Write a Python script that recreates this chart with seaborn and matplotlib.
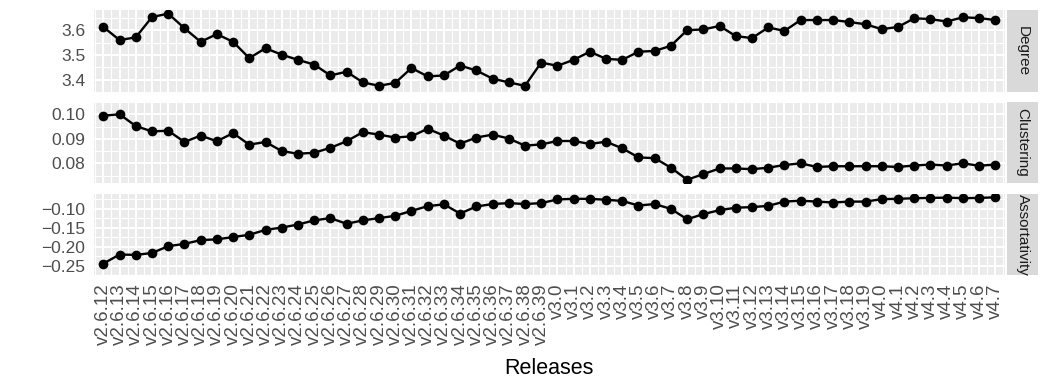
import numpy as np
import pandas as pd
import matplotlib
matplotlib.use("Agg")
import matplotlib.pyplot as plt
from matplotlib.patches import Rectangle
import seaborn as sns

releases = [
    "v2.6.12", "v2.6.13", "v2.6.14", "v2.6.15", "v2.6.16", "v2.6.17", "v2.6.18",
    "v2.6.19", "v2.6.20", "v2.6.21", "v2.6.22", "v2.6.23", "v2.6.24", "v2.6.25",
    "v2.6.26", "v2.6.27", "v2.6.28", "v2.6.29", "v2.6.30", "v2.6.31", "v2.6.32",
    "v2.6.33", "v2.6.34", "v2.6.35", "v2.6.36", "v2.6.37", "v2.6.38", "v2.6.39",
    "v3.0", "v3.1", "v3.2", "v3.3", "v3.4", "v3.5", "v3.6", "v3.7", "v3.8", "v3.9",
    "v3.10", "v3.11", "v3.12", "v3.13", "v3.14", "v3.15", "v3.16", "v3.17", "v3.18",
    "v3.19", "v4.0", "v4.1", "v4.2", "v4.3", "v4.4", "v4.5", "v4.6", "v4.7",
]

degree = [
    3.613, 3.560, 3.571, 3.653, 3.667, 3.608, 3.553, 3.584, 3.553, 3.487,
    3.527, 3.501, 3.480, 3.461, 3.417, 3.432, 3.389, 3.375, 3.387, 3.447,
    3.413, 3.417, 3.457, 3.437, 3.404, 3.389, 3.375, 3.469, 3.456, 3.480,
    3.513, 3.484, 3.480, 3.513, 3.516, 3.537, 3.600, 3.603, 3.617, 3.576,
    3.568, 3.611, 3.597, 3.641, 3.641, 3.641, 3.633, 3.624, 3.604, 3.613,
    3.648, 3.645, 3.635, 3.652, 3.649, 3.641,
]

clustering = [
    0.0994, 0.1000, 0.0952, 0.0930, 0.0933, 0.0887, 0.0913, 0.0890, 0.0923, 0.0876,
    0.0887, 0.0850, 0.0839, 0.0843, 0.0863, 0.0890, 0.0927, 0.0917, 0.0905, 0.0910,
    0.0941, 0.0913, 0.0880, 0.0905, 0.0917, 0.0901, 0.0872, 0.0877, 0.0891, 0.0891,
    0.0879, 0.0888, 0.0861, 0.0824, 0.0821, 0.0782, 0.0733, 0.0756, 0.0779, 0.0779,
    0.0776, 0.0782, 0.0793, 0.0800, 0.0785, 0.0788, 0.0788, 0.0788, 0.0788, 0.0785,
    0.0791, 0.0795, 0.0791, 0.0800, 0.0790, 0.0795,
]

assortativity = [
    -0.245, -0.221, -0.222, -0.217, -0.199, -0.193, -0.183, -0.181, -0.175, -0.169,
    -0.156, -0.150, -0.142, -0.131, -0.125, -0.140, -0.131, -0.125, -0.119, -0.106,
    -0.0935, -0.0887, -0.113, -0.0944, -0.0879, -0.0855, -0.0879, -0.0855, -0.0758, -0.0742,
    -0.0742, -0.0766, -0.0798, -0.0919, -0.0879, -0.1008, -0.128, -0.1145, -0.104, -0.0976,
    -0.096, -0.0927, -0.0815, -0.079, -0.0815, -0.0839, -0.0815, -0.0815, -0.075, -0.0742,
    -0.0726, -0.0718, -0.071, -0.0726, -0.0718, -0.0702,
]

metrics = ["Degree", "Clustering", "Assortativity"]
series = [degree, clustering, assortativity]
y_major = [[3.4, 3.5, 3.6], [0.08, 0.09, 0.10], [-0.25, -0.20, -0.15, -0.10]]
y_labels = [["3.4", "3.5", "3.6"], ["0.08", "0.09", "0.10"],
            ["\u22120.25", "\u22120.20", "\u22120.15", "\u22120.10"]]

sns.set_theme(style="darkgrid", rc={
    "axes.facecolor": "#EBEBEB",
    "grid.color": "white",
})
plt.rcParams["font.family"] = ["Liberation Sans", "DejaVu Sans"]

W, H = 1050, 390
fig = plt.figure(figsize=(W / 100, H / 100), dpi=100)
fig.patch.set_facecolor("white")

panel_left, panel_right = 93.6, 1005.0
panel_rows = [(10, 92), (102, 183), (194, 275)]
strip_left, strip_right = 1007.0, 1038.0

n = len(releases)
x = np.arange(n)

for i, (name, vals) in enumerate(zip(metrics, series)):
    top, bot = panel_rows[i]
    ax = fig.add_axes([panel_left / W, 1 - bot / H,
                       (panel_right - panel_left) / W, (bot - top) / H])
    df = pd.DataFrame({"pos": x, "value": vals})
    sns.lineplot(data=df, x="pos", y="value", ax=ax, color="black",
                 linewidth=1.7, marker="o", markersize=7.0,
                 markeredgewidth=0, sort=False, estimator=None)
    vmin, vmax = min(vals), max(vals)
    pad = 0.05 * (vmax - vmin)
    ax.set_ylim(vmin - pad, vmax + pad)
    ax.set_xlim(-0.6, n - 1 + 0.6)

    ax.set_yticks(y_major[i])
    ax.set_yticklabels(y_labels[i])
    majors = y_major[i]
    step = majors[1] - majors[0]
    minors = [m - step / 2 for m in majors] + [majors[-1] + step / 2]
    ax.set_yticks(minors, minor=True)
    ax.set_xticks(x)
    ax.set_xticks(np.arange(-0.5, n, 1.0), minor=True)

    ax.grid(which="major", color="white", linewidth=1.5)
    ax.grid(which="minor", color="white", linewidth=0.8)
    ax.set_axisbelow(True)
    for s in ax.spines.values():
        s.set_visible(False)

    ax.set_xlabel("")
    ax.set_ylabel("")
    ax.tick_params(axis="y", which="major", length=4, width=1.0,
                   color="#333333", labelcolor="#4D4D4D", labelsize=12.5, pad=2)
    ax.tick_params(which="minor", length=0)
    if i < 2:
        ax.tick_params(axis="x", which="major", length=0, labelbottom=False)
    else:
        ax.set_xticklabels(releases, rotation=90)
        ax.tick_params(axis="x", which="major", length=4, width=1.0,
                       color="#333333", labelcolor="#4D4D4D", labelsize=13.5, pad=2)

    # facet strip on the right
    fig.patches.append(Rectangle((strip_left / W, 1 - bot / H),
                                 (strip_right - strip_left) / W, (bot - top) / H,
                                 transform=fig.transFigure, facecolor="#D9D9D9",
                                 edgecolor="none", zorder=0))
    fig.text((strip_left + strip_right) / 2 / W, 1 - (top + bot) / 2 / H, name,
             rotation=270, ha="center", va="center", fontsize=11,
             color="#1A1A1A")

fig.text((panel_left + panel_right) / 2 / W, 1 - 368 / H, "Releases",
         ha="center", va="center", fontsize=15.5, color="black")

fig.savefig("out.png", dpi=100)
